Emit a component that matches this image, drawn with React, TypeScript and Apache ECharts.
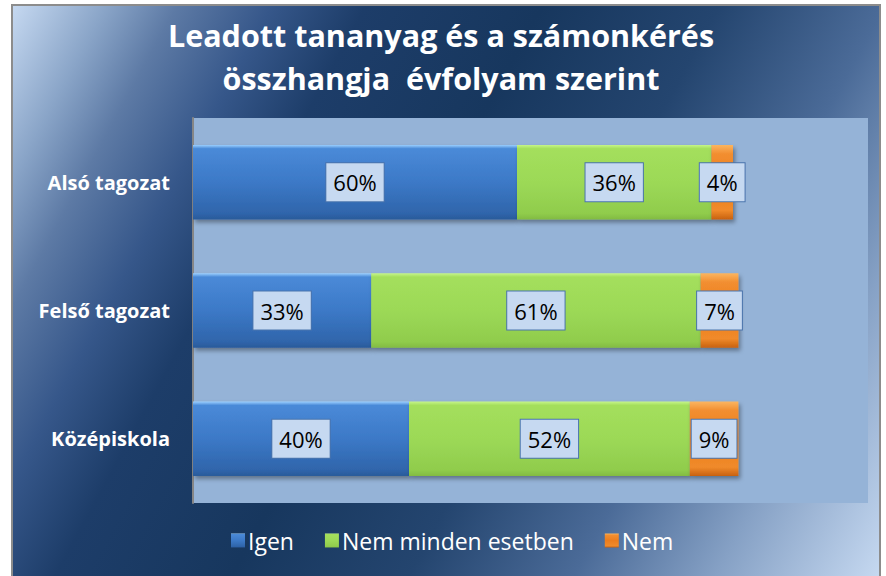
import React, { useEffect, useRef } from "react";
import * as echarts from "echarts";

const categories = ["Alsó tagozat", "Felső tagozat", "Középiskola"];
const seriesNames = ["Igen", "Nem minden esetben", "Nem"];
const igen = [60, 33, 40];
const nemMinden = [36, 61, 52];
const nem = [4, 7, 9];
const titleLines = ["Leadott tananyag és a számonkérés", "összhangja  évfolyam szerint"];

const FONT = "'Open Sans', 'Noto Sans', sans-serif";

function vgrad(stops: [number, string][]) {
  return new echarts.graphic.LinearGradient(
    0, 0, 0, 1,
    stops.map(([offset, color]) => ({ offset, color }))
  );
}

export default function App() {
  const ref = useRef<HTMLDivElement>(null);
  useEffect(() => {
    if (!ref.current) return;
    const chart = echarts.init(ref.current, null, { renderer: "svg" });

    const bg = new echarts.graphic.LinearGradient(
      12, 5, 922, 501,
      [
        { offset: 0, color: "#c6d9f1" },
        { offset: 0.08, color: "#8aa5c8" },
        { offset: 0.14, color: "#5d7aa5" },
        { offset: 0.22, color: "#36578a" },
        { offset: 0.3, color: "#1d3d69" },
        { offset: 0.45, color: "#17375e" },
        { offset: 0.6, color: "#24456f" },
        { offset: 0.74, color: "#4b6b98" },
        { offset: 0.86, color: "#86a1c5" },
        { offset: 1, color: "#c6d9f1" },
      ],
      true
    );

    const labelStyle = {
      show: true,
      position: "inside",
      formatter: "{c}%",
      color: "#000",
      fontSize: 22,
      fontFamily: FONT,
      backgroundColor: "#c6d9f1",
      borderColor: "#4a74ad",
      borderWidth: 1,
      padding: [5, 7, 5, 7],
      lineHeight: 28,
    };

    const shadow = {
      shadowColor: "rgba(0,0,0,0.35)",
      shadowBlur: 4,
      shadowOffsetX: 2,
      shadowOffsetY: 3,
    };

    const colors = [
      vgrad([[0, "#9cd0ff"], [0.05, "#4a8ad8"], [0.5, "#3c79c7"], [0.92, "#2f65ab"], [1, "#2a5a9a"]]),
      vgrad([[0, "#c6f58a"], [0.05, "#a4df5c"], [0.5, "#9cd957"], [0.92, "#90cc4c"], [1, "#82bb42"]]),
      vgrad([[0, "#fbb560"], [0.12, "#f28e30"], [0.5, "#ec7d1e"], [0.88, "#f08a2a"], [1, "#c8610f"]]),
    ];
    const datas = [igen, nemMinden, nem];

    chart.setOption({
      animation: false,
      graphic: [
        {
          type: "rect",
          z: -10,
          silent: true,
          shape: { x: 12, y: 5, width: 868, height: 590 },
          style: { fill: bg, stroke: "#8c8c8c", lineWidth: 2 },
        },
      ],
      title: {
        text: titleLines.join("\n"),
        left: 436,
        top: 8,
        textAlign: "center",
        textStyle: {
          color: "#ffffff",
          fontSize: 30.5,
          fontWeight: "bold",
          fontFamily: FONT,
          lineHeight: 43,
        },
      },
      legend: {
        data: seriesNames,
        left: 226,
        top: 524,
        icon: "rect",
        itemWidth: 14,
        itemHeight: 14,
        itemGap: 31,
        textStyle: { color: "#ffffff", fontSize: 23, fontFamily: FONT, padding: [0, 0, 0, -2] },
      },
      grid: {
        left: 193,
        right: 18,
        top: 118,
        bottom: 73,
        show: true,
        backgroundColor: "#95b3d7",
        borderWidth: 0,
      },
      xAxis: {
        type: "value",
        min: 0,
        max: 125,
        show: false,
        splitLine: { show: false },
      },
      yAxis: {
        type: "category",
        data: categories,
        inverse: true,
        axisTick: { show: false },
        axisLine: { show: true, lineStyle: { color: "#868686", width: 2 } },
        axisLabel: {
          color: "#ffffff",
          fontSize: 20,
          fontWeight: "bold",
          fontFamily: FONT,
          margin: 23,
        },
      },
      series: seriesNames.map((name, i) => ({
        name,
        type: "bar",
        stack: "total",
        barWidth: "58%",
        data: datas[i],
        itemStyle: { color: colors[i], ...shadow },
        label: labelStyle,
      })),
    });
    return () => chart.dispose();
  }, []);
  return (
    <div
      ref={ref}
      style={{ position: "absolute", left: 0, top: 0, width: 886, height: 576, background: "#fff" }}
    />
  );
}
